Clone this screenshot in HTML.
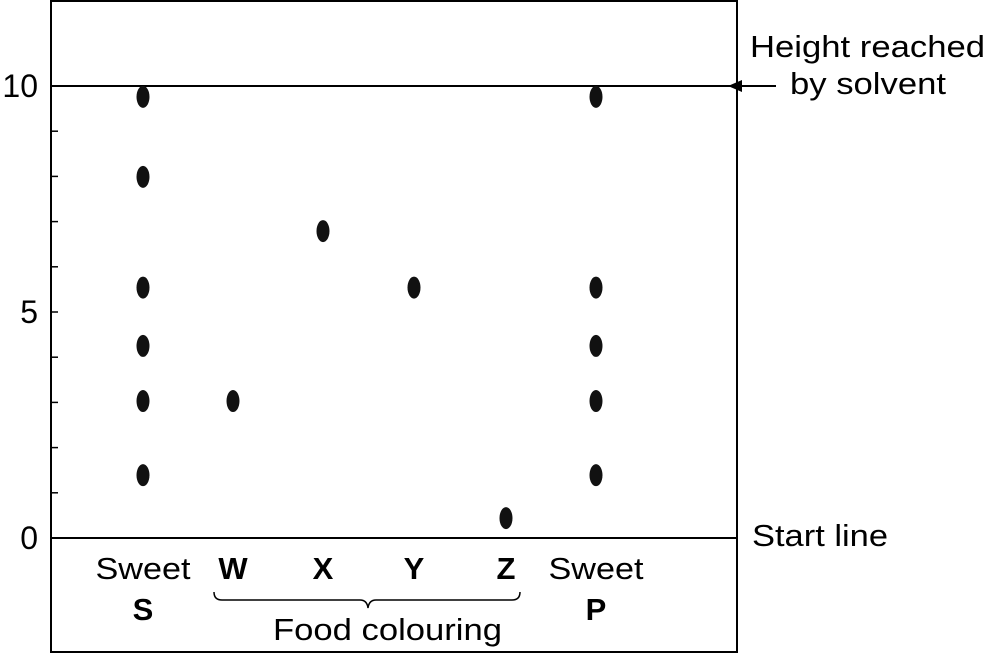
<!DOCTYPE html>
<html><head><meta charset="utf-8"><style>
html,body{margin:0;padding:0;background:#fff;}
svg{display:block;font-family:"Liberation Sans",Arial,sans-serif;}
</style></head><body>
<svg id="chart" width="988" height="655" viewBox="0 0 988 655">
<rect x="51" y="1" width="686" height="651" fill="none" stroke="#000" stroke-width="2"/>
<line x1="51" y1="86" x2="737" y2="86" stroke="#000" stroke-width="2"/>
<line x1="51" y1="538" x2="737" y2="538" stroke="#000" stroke-width="2"/>
<g id="ticks"></g>
<g id="dots"></g>
<g id="xlabels" font-size="31" text-anchor="middle"></g>
<path d="M214,592 q0,8 8,8 L360,600 q7,0 8,8 q1,-8 8,-8 L512,600 q8,0 8,-8" fill="none" stroke="#000" stroke-width="1.5"/>
<text x="273" y="640" font-size="31" textLength="229" lengthAdjust="spacingAndGlyphs">Food colouring</text>
<text x="750" y="57" font-size="31" textLength="235" lengthAdjust="spacingAndGlyphs">Height reached</text>
<text x="790" y="94" font-size="31" textLength="156" lengthAdjust="spacingAndGlyphs">by solvent</text>
<line x1="740" y1="86" x2="776" y2="86" stroke="#000" stroke-width="2"/>
<polygon points="728,86 742,80 742,92" fill="#000"/>
<text x="752" y="546" font-size="31" textLength="136" lengthAdjust="spacingAndGlyphs">Start line</text>
</svg>
<script>
var yTicks=[0,5,10];
var columns=["S","W","X","Y","Z","P"];
var columnX=[143,233,323,414,506,596];
var spotValues=[[9.76,7.99,5.54,4.25,3.03,1.39],[3.03],[6.79],[5.54],[0.44],[9.76,5.54,4.25,3.03,1.39]];
var NS="http://www.w3.org/2000/svg";
function y(v){return 538-v*45.2;}
var tg=document.getElementById('ticks');
for(var i=1;i<10;i++){
 var l=document.createElementNS(NS,'line');
 l.setAttribute('x1',51);l.setAttribute('x2',58);l.setAttribute('y1',y(i));l.setAttribute('y2',y(i));
 l.setAttribute('stroke','#000');l.setAttribute('stroke-width','1.5');
 
 
 tg.appendChild(l);
}
yTicks.forEach(function(t){
 var tx=document.createElementNS(NS,'text');
 tx.setAttribute('x',38);tx.setAttribute('y',y(t)+11);tx.setAttribute('text-anchor','end');tx.setAttribute('font-size','32');
 tx.textContent=t;
 
 
 tg.appendChild(tx);
});
var dg=document.getElementById('dots');
spotValues.forEach(function(arr,ci){
 arr.forEach(function(v){
  var e=document.createElementNS(NS,'ellipse');
  e.setAttribute('cx',columnX[ci]);e.setAttribute('cy',y(v));e.setAttribute('rx',6.5);e.setAttribute('ry',11);e.setAttribute('fill','#111');
  
  
  dg.appendChild(e);
 });
});
var xg=document.getElementById('xlabels');
var xl=[["Sweet","S"],["W"],["X"],["Y"],["Z"],["Sweet","P"]];
xl.forEach(function(lab,ci){
 lab.forEach(function(s,j){
  var t=document.createElementNS(NS,'text');
  t.setAttribute('x',columnX[ci]);t.setAttribute('y',j==0?579:620);
  if(s.length==1)t.setAttribute('font-weight','bold');
  if(s=="Sweet"){t.setAttribute('textLength','95');t.setAttribute('lengthAdjust','spacingAndGlyphs');}
  t.textContent=s;
  
  
  xg.appendChild(t);
 });
});
</script>
</body></html>
